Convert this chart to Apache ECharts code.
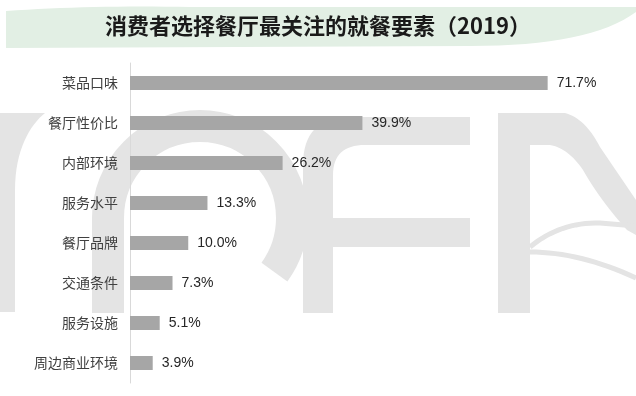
<!DOCTYPE html>
<html>
<head>
<meta charset="utf-8">
<script src="https://cdn.jsdelivr.net/npm/echarts@6/dist/echarts.min.js"></script>
<style>
html,body{margin:0;padding:0;background:#fff;}
#chart{width:636px;height:396px;}
</style>
</head>
<body>
<div id="chart"></div>
<script>
const titleText = '消费者选择餐厅最关注的就餐要素（2019）';
const categories = ['菜品口味','餐厅性价比','内部环境','服务水平','餐厅品牌','交通条件','服务设施','周边商业环境'];
const values = [71.7, 39.9, 26.2, 13.3, 10.0, 7.3, 5.1, 3.9];

// decorative shape helper: converts simple path commands into polygon points
function pts(d) {
  const tok = d.match(/[MLQCZ]|-?[\d.]+/g);
  const out = [];
  let i = 0, cx = 0, cy = 0, cmd = '';
  const num = () => parseFloat(tok[i++]);
  while (i < tok.length) {
    if (/[MLQCZ]/.test(tok[i])) cmd = tok[i++];
    if (cmd === 'Z') break;
    if (cmd === 'M' || cmd === 'L') { cx = num(); cy = num(); out.push([cx, cy]); }
    else if (cmd === 'Q') {
      const x1 = num(), y1 = num(), x2 = num(), y2 = num();
      for (let t = 1; t <= 16; t++) { const s = t / 16, u = 1 - s;
        out.push([u*u*cx + 2*u*s*x1 + s*s*x2, u*u*cy + 2*u*s*y1 + s*s*y2]); }
      cx = x2; cy = y2;
    } else if (cmd === 'C') {
      const x1 = num(), y1 = num(), x2 = num(), y2 = num(), x3 = num(), y3 = num();
      for (let t = 1; t <= 16; t++) { const s = t / 16, u = 1 - s;
        out.push([u*u*u*cx + 3*u*u*s*x1 + 3*u*s*s*x2 + s*s*s*x3, u*u*u*cy + 3*u*u*s*y1 + 3*u*s*s*y2 + s*s*s*y3]); }
      cx = x3; cy = y3;
    }
  }
  return out;
}

const WM = '#e4e4e4';
const poly = (d) => ({type: 'polygon', z: -10, silent: true, shape: {points: pts(d)}, style: {fill: WM}});
const line = (d) => ({type: 'polyline', z: -10, silent: true, shape: {points: pts(d)}, style: {stroke: WM, lineWidth: 5, fill: null}});

const chart = echarts.init(document.getElementById('chart'), null, {renderer: 'canvas'});
chart.setOption({
  animation: false,
  backgroundColor: '#ffffff',
  title: {
    text: titleText,
    left: 'center',
    top: 10,
    textStyle: {fontFamily: 'Noto Sans CJK SC', fontWeight: 'bold', fontSize: 22, color: '#1a1a1a'}
  },
  graphic: [
    {type: 'polygon', z: -10, silent: true, shape: {points: pts('M6,11 Q90,5 190,7 L636,7 L636,12 Q590,46 470,46 L6,48 Z')}, style: {fill: '#e2efe4'}},
    poly('M0,113 L45,113 C30,125 15,150 15,190 L15,312 L0,312 Z'),
    {type: 'arc', z: -10, silent: true, shape: {cx: 200, cy: 218, r: 92, startAngle: Math.PI, endAngle: Math.PI * 2.2, clockwise: true}, style: {stroke: WM, lineWidth: 32, fill: null}},
    {type: 'rect', z: -10, silent: true, shape: {x: 92, y: 218, width: 32, height: 95}, style: {fill: WM}},
    poly('M303,313 L303,165 Q303,117 350,117 L470,117 L470,145 L365,145 Q333,145 333,175 L333,313 Z'),
    {type: 'rect', z: -10, silent: true, shape: {x: 333, y: 218, width: 137, height: 29}, style: {fill: WM}},
    poly('M498,313 L498,113 L565,113 Q585,118 600,147 L636,200 L636,235 L627,230 Q600,200 583,170 Q568,148 550,145 L530,145 L530,313 Z'),
    line('M530,247 Q560,222 600,223 L636,226'),
    line('M530,252 Q580,252 636,278')
  ],
  grid: {left: 130, right: 40, top: 63, bottom: 13, containLabel: false},
  xAxis: {type: 'value', min: 0, max: 80, show: false},
  yAxis: {
    type: 'category',
    inverse: true,
    data: categories,
    axisLine: {show: true, lineStyle: {color: '#d9d9d9', width: 1}},
    axisTick: {show: false},
    axisLabel: {fontSize: 14, color: '#404040', margin: 12, fontFamily: 'Noto Sans CJK SC'}
  },
  series: [{
    type: 'bar',
    data: values,
    barWidth: 14,
    itemStyle: {color: '#a6a6a6'},
    label: {
      show: true,
      position: 'right',
      distance: 9,
      formatter: p => p.value.toFixed(1) + '%',
      fontSize: 14,
      color: '#262626',
      fontFamily: 'Liberation Sans'
    }
  }]
});
</script>
</body>
</html>
